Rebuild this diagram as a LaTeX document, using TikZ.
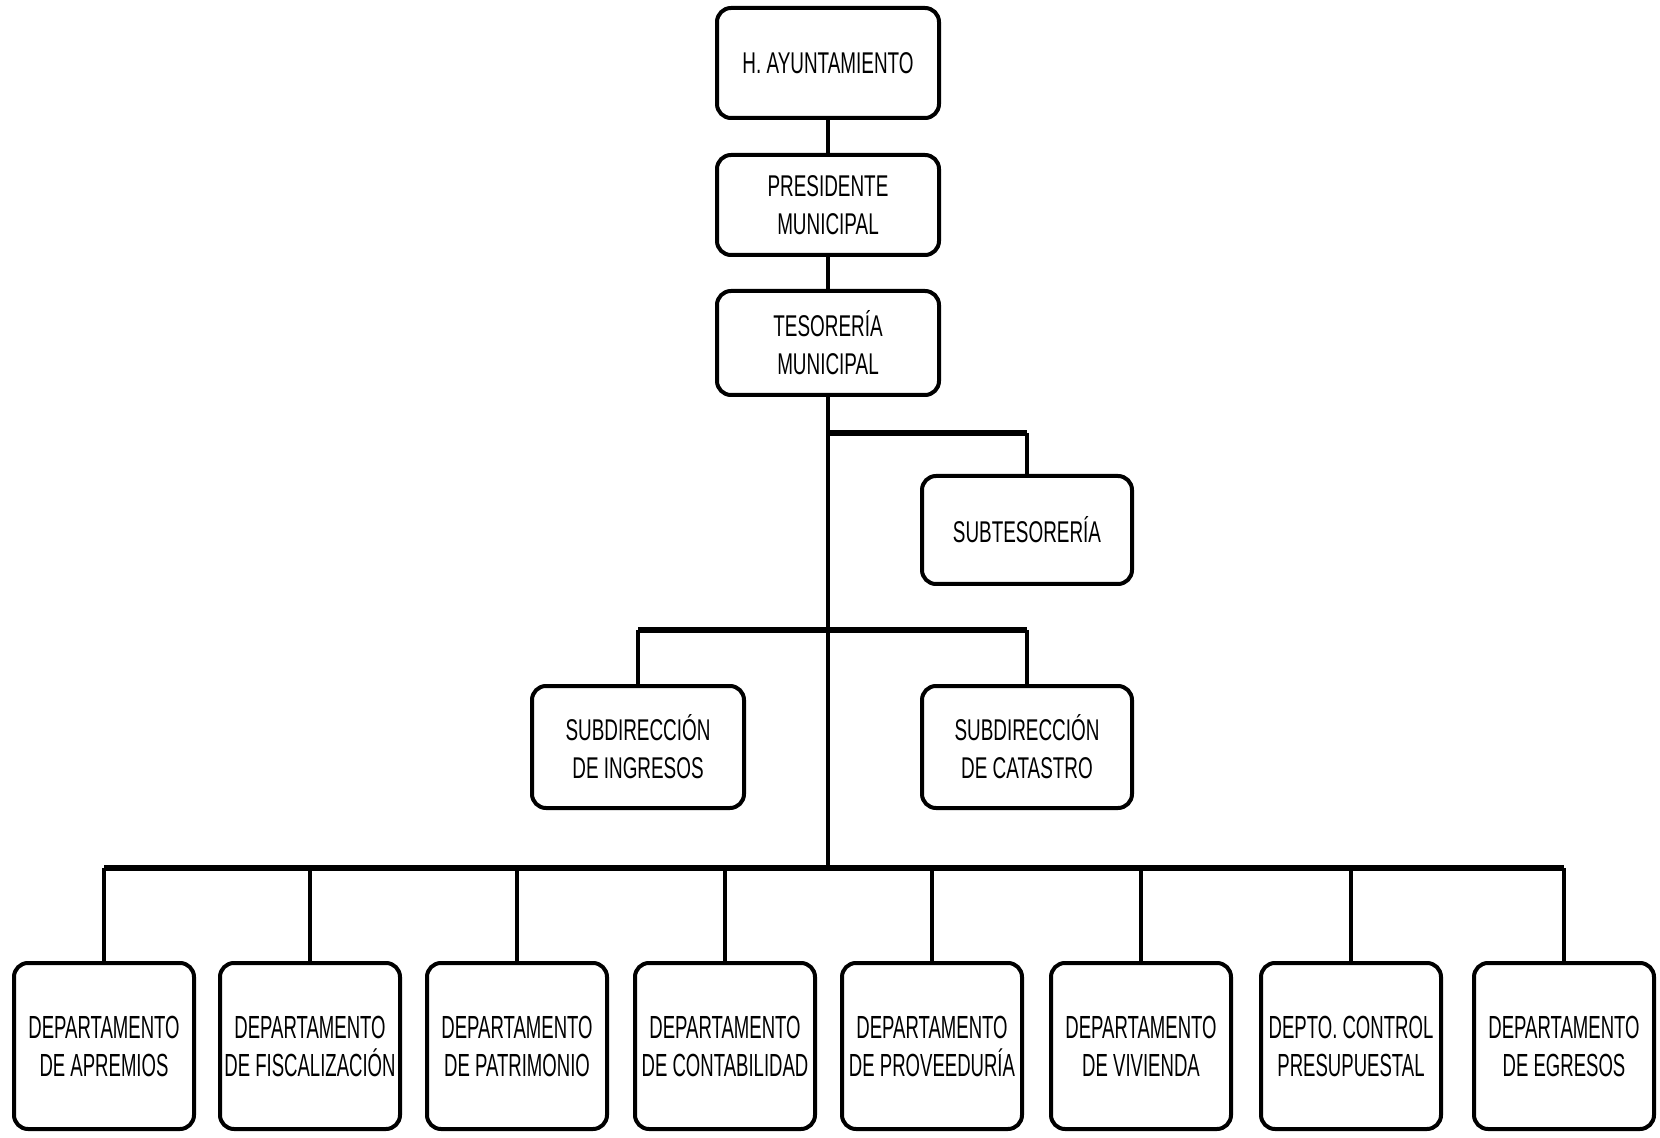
\documentclass[tikz,border=0pt]{standalone}
\usepackage{fontspec}
\usepackage{tikz}
\newfontfamily\topfont[FakeStretch=0.63]{Liberation Sans}
\newfontfamily\deptfont[FakeStretch=0.58]{Liberation Sans}

\begin{document}
\begin{tikzpicture}[x=0.5pt,y=-0.5pt,
    box/.style={draw,line width=2pt,rounded corners=7pt,align=center,inner sep=0pt,
      minimum width=111pt,font=\topfont\fontsize{15}{19}\selectfont},
    dept/.style={box,minimum width=90pt,minimum height=83pt,font=\deptfont\fontsize{16}{19}\selectfont},
    conn/.style={line width=1.6pt},
    bus/.style={line width=2.6pt}]
      \useasboundingbox (0,0) rectangle (1660,1138);
      \node[box,minimum height=55pt] (ayunt) at (828,63) {H. AYUNTAMIENTO};
      \node[box,minimum height=50pt] (pres) at (828,205) {PRESIDENTE\\MUNICIPAL};
      \node[box,minimum height=52pt] (teso) at (828,343) {TESORERÍA\\MUNICIPAL};
      \node[box,minimum width=105pt,minimum height=54pt] (subteso) at (1027,530) {SUBTESORERÍA};
      \node[box,minimum width=106pt,minimum height=61pt] (ingr) at (638,747) {SUBDIRECCIÓN\\DE INGRESOS};
      \node[box,minimum width=105pt,minimum height=61pt] (cata) at (1027,747) {SUBDIRECCIÓN\\DE CATASTRO};
      % departamentos
      \foreach \i/\x/\t in {1/104/{DEPARTAMENTO\\DE APREMIOS},2/310/{DEPARTAMENTO\\DE FISCALIZACIÓN},
          3/517/{DEPARTAMENTO\\DE PATRIMONIO},4/725/{DEPARTAMENTO\\DE CONTABILIDAD},
          5/932/{DEPARTAMENTO\\DE PROVEEDURÍA},6/1141/{DEPARTAMENTO\\DE VIVIENDA},
          7/1351/{DEPTO. CONTROL\\PRESUPUESTAL},8/1564/{DEPARTAMENTO\\DE EGRESOS}}
        \node[dept] (d\i) at (\x,1046) {\t};
      \coordinate (j1) at (828,433);
      \coordinate (j2) at (828,630);
      \coordinate (j3) at (828,868);
      \draw[conn] (ayunt) -- (pres);
      \draw[conn] (pres) -- (teso);
      \draw[conn] (teso) -- (j3);
      \draw[bus] (j1) -- (j1 -| subteso.north);
      \draw[conn] (j1 -| subteso.north) -- (subteso);
      \draw[bus] (j2 -| ingr.north) -- (j2 -| cata.north);
      \draw[conn] (j2 -| ingr.north) -- (ingr);
      \draw[conn] (j2 -| cata.north) -- (cata);
      \draw[bus] (j3 -| d1.north) -- (j3 -| d8.north);
      \foreach \i in {1,...,8}
        \draw[conn] (j3 -| d\i.north) -- (d\i);
\end{tikzpicture}
\end{document}
